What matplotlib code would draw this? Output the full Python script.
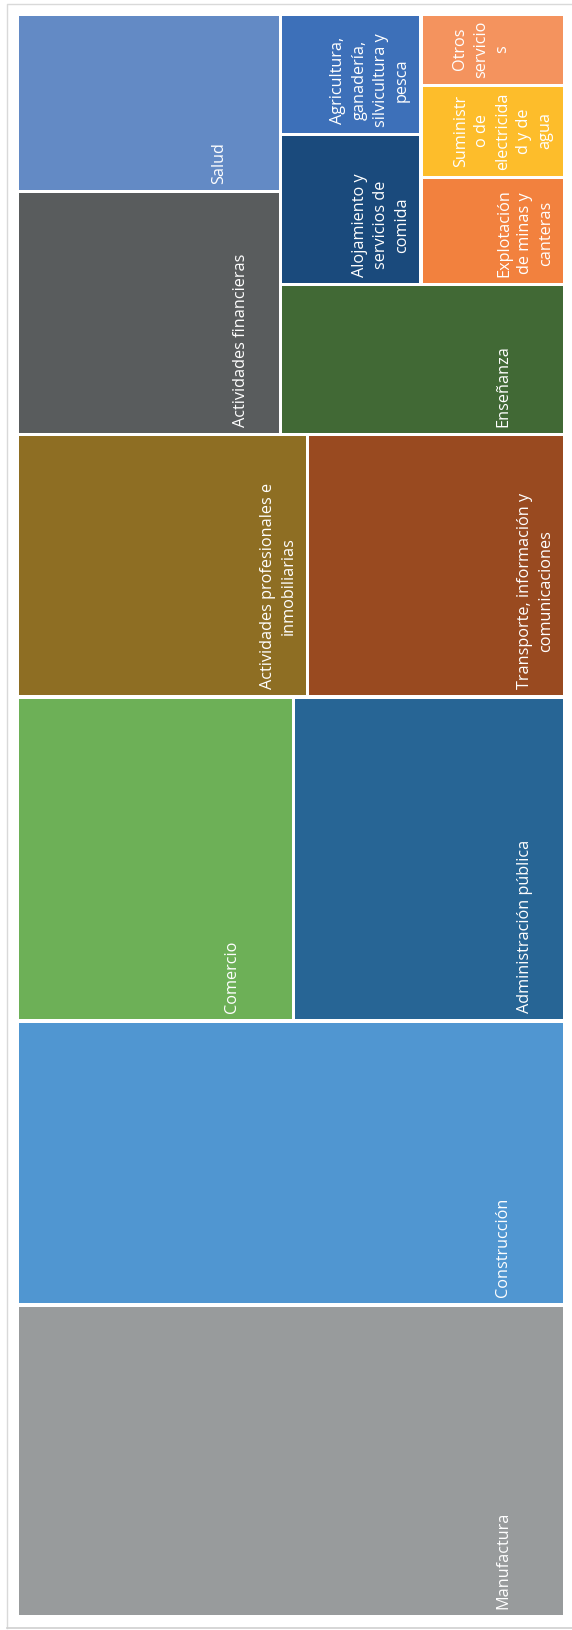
import matplotlib
matplotlib.use("Agg")
import matplotlib.pyplot as plt
from matplotlib.patches import Rectangle

# Share of each sector (estimated from the areas in the picture)
sectors = [
    "Manufactura", "Construcción", "Comercio", "Administración pública",
    "Actividades profesionales e inmobiliarias",
    "Transporte, información y comunicaciones",
    "Actividades financieras", "Salud", "Enseñanza",
    "Alojamiento y servicios de comida",
    "Agricultura, ganadería, silvicultura y pesca",
    "Explotación de minas y canteras",
    "Suministro de electricidad y de agua", "Otros servicios",
]
shares = [19.44, 17.72, 10.21, 10.02, 8.68, 7.70, 7.29, 5.32, 4.85,
          2.40, 1.93, 1.76, 1.51, 1.17]

# label text as it wraps in the boxes
labels = [
    "Manufactura", "Construcción", "Comercio", "Administración pública",
    "Actividades profesionales e\ninmobiliarias",
    "Transporte, información y\ncomunicaciones",
    "Actividades financieras", "Salud", "Enseñanza",
    "Alojamiento y\nservicios de\ncomida",
    "Agricultura,\nganadería,\nsilvicultura y\npesca",
    "Explotación\nde minas y\ncanteras",
    "Suministr\no de\nelectricida\nd y de\nagua",
    "Otros\nservicio\ns",
]

colors = ["#989B9C", "#5096D1", "#6DB057", "#276595", "#8E6E23", "#994A20",
          "#595C5D", "#638AC5", "#416935", "#1A4A7C", "#3D70B9", "#F2813E",
          "#FDBD2B", "#F4935E"]

# empty line slots left after each label (as in the reference)
label_shift = [2, 2, 2, 1, 0, 0, 1, 2, 2, 0, 0, 0, 0, 2]

W, H = 572, 1631
GAP = 1.75
LINE = 22


def worst(row, side):
    s = sum(row)
    return max(max(side * side * r / (s * s), s * s / (side * side * r)) for r in row)


def squarify(values, x, y, w, h):
    total = sum(values)
    vals = [v * w * h / total for v in values]
    rects = []
    while vals:
        side = min(w, h)
        row = [vals[0]]
        i = 1
        while i < len(vals) and worst(row + [vals[i]], side) <= worst(row, side):
            row.append(vals[i])
            i += 1
        s = sum(row)
        if w <= h:
            rh = s / w
            cx = x
            for v in row:
                rects.append((cx, y, v / rh, rh))
                cx += v / rh
            y += rh
            h -= rh
        else:
            cw = s / h
            cy = y
            for v in row:
                rects.append((x, cy, cw, v / cw))
                cy += v / cw
            x += cw
            w -= cw
        vals = vals[i:]
    return rects


fig = plt.figure(figsize=(W / 100, H / 100), dpi=100)
ax = fig.add_axes([0, 0, 1, 1])
ax.set_xlim(0, W)
ax.set_ylim(0, H)
ax.axis("off")

# chart frame
ax.plot([7, 7, W + 5], [H - 1628.7, H - 4.5, H - 4.5], color="#D9D9D9", lw=1.0)
ax.plot([7, W + 5], [H - 1628.7, H - 1628.7], color="#D0D0D0", lw=1.2)

order = sorted(range(len(shares)), key=lambda k: -shares[k])
rects = squarify([shares[k] for k in order], 17.15, H - 1617.75,
                 564.75 - 17.15, 1617.75 - 15.0)

for k, (x, y, w, h) in zip(order, rects):
    ax.add_patch(Rectangle((x + GAP, y + GAP), w - 2 * GAP, h - 2 * GAP,
                           facecolor=colors[k], edgecolor="none"))
    n = labels[k].count("\n") + 1
    last = x + w - GAP - 16 - label_shift[k] * LINE
    cx = last - (n - 1) * LINE / 2
    ax.text(cx, y + GAP + 7, labels[k], rotation=90, ha="center", va="bottom",
            multialignment="center", color="white", fontsize=11.7,
            family=["Open Sans", "DejaVu Sans"], linespacing=1.42)

fig.savefig("out.png", dpi=100)
